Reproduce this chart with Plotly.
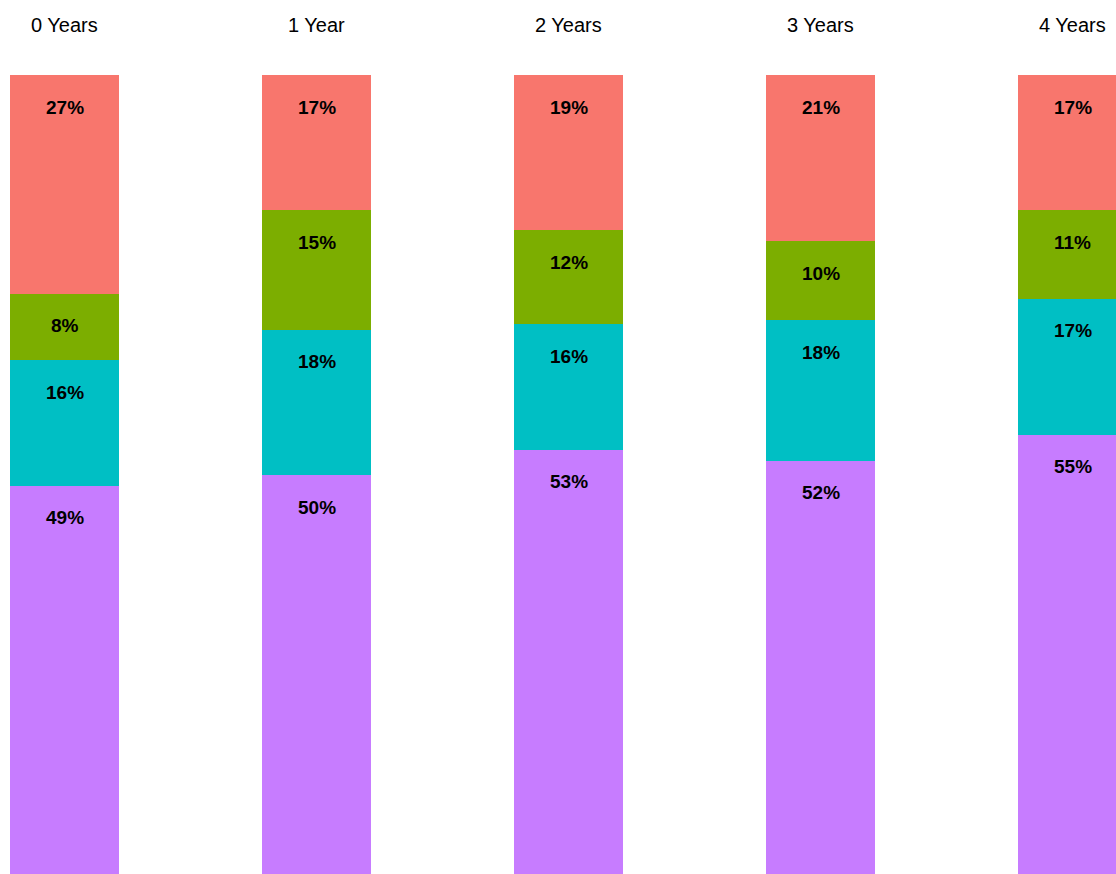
import plotly.graph_objects as go

categories = ["0 Years", "1 Year", "2 Years", "3 Years", "4 Years"]
# bottom -> top stacking order
series_names = ["D", "C", "B", "A"]
purple = [48.6, 49.9, 53.1, 51.7, 55.0]
cyan = [15.7, 18.2, 15.7, 17.6, 17.0]
green = [8.3, 15.0, 11.8, 9.9, 11.1]
red = [27.4, 16.9, 19.4, 20.8, 16.9]
colors = ["#C77CFF", "#00BFC4", "#7CAE00", "#F8766D"]

series = [purple, cyan, green, red]
xpos = list(range(len(categories)))

fig = go.Figure()
for name, vals, col in zip(series_names, series, colors):
    fig.add_trace(go.Bar(x=xpos, y=vals, name=name, marker=dict(color=col, line=dict(width=0)),
                         width=0.43, showlegend=False, hoverinfo="skip"))

annotations = []
cum = [0.0] * len(categories)
for vals in series:
    for i, v in enumerate(vals):
        cum[i] += v
        annotations.append(dict(x=xpos[i], y=min(round(cum[i], 6), 100), xref="x", yref="y", text=f"{round(v)}%",
                                showarrow=False, yanchor="middle", yshift=-32,
                                font=dict(family="Liberation Sans, Arial, sans-serif", size=19, color="black", weight="bold")))
for i, c in enumerate(categories):
    annotations.append(dict(x=xpos[i], y=1, xref="x", yref="paper", text=c, showarrow=False,
                            yanchor="middle", yshift=50,
                            font=dict(family="Liberation Sans, Arial, sans-serif", size=20, color="black")))

fig.update_layout(
    barmode="stack",
    width=1116, height=874,
    margin=dict(l=0, r=0, t=75, b=0),
    paper_bgcolor="white", plot_bgcolor="white",
    annotations=annotations,
    xaxis=dict(range=[-64.5/252, (1116-64.5)/252], visible=False, showgrid=False, zeroline=False),
    yaxis=dict(range=[0, 100], visible=False, showgrid=False, zeroline=False),
)
fig.write_html("out.html")
